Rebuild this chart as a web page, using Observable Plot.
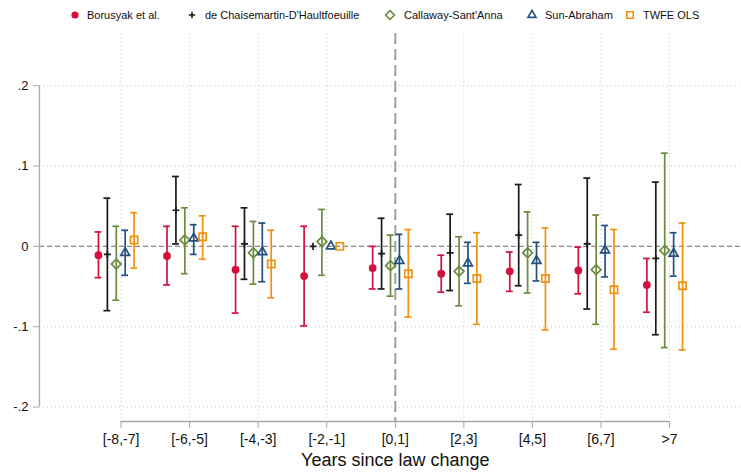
<!DOCTYPE html>
<html><head><meta charset="utf-8">
<script src="https://cdn.jsdelivr.net/npm/d3@7"></script>
<script src="https://cdn.jsdelivr.net/npm/@observablehq/plot@0.6"></script>
<style>
body{margin:0;background:#fff;font-family:"Liberation Sans",Arial,sans-serif;}
#legend{position:relative;height:30px;width:741px;font-size:11px;color:#111;}
#legend svg{position:absolute;top:8px;overflow:visible;}
#legend span{position:absolute;top:0;line-height:30px;white-space:nowrap;}
</style></head><body>
<div id="legend"></div><div id="chart"></div>
<script>
const groups = ["[-8,-7]","[-6,-5]","[-4,-3]","[-2,-1]","[0,1]","[2,3]","[4,5]","[6,7]",">7"];
const estimators = ["Borusyak et al.","de Chaisemartin-D'Haultfoeuille","Callaway-Sant'Anna","Sun-Abraham","TWFE OLS"];
const yTicks = [-0.2,-0.1,0,0.1,0.2];
const xLabel = "Years since law change";

const borusyakEst = [-0.011,-0.012,-0.029,-0.037,-0.027,-0.034,-0.031,-0.030,-0.048];
const borusyakLo  = [-0.039,-0.048,-0.083,-0.099,-0.053,-0.057,-0.056,-0.059,-0.082];
const borusyakHi  = [0.018,0.025,0.025,0.025,0.000,-0.011,-0.007,-0.001,-0.015];

const dcdhEst = [-0.010,0.045,0.003,0.000,-0.009,-0.008,0.014,0.003,-0.015];
const dcdhLo  = [-0.080,0.003,-0.041,0.000,-0.053,-0.055,-0.049,-0.078,-0.110];
const dcdhHi  = [0.060,0.087,0.048,0.000,0.035,0.040,0.077,0.085,0.080];

const csEst = [-0.022,0.008,-0.008,0.006,-0.024,-0.031,-0.008,-0.029,-0.005];
const csLo  = [-0.067,-0.034,-0.047,-0.036,-0.062,-0.074,-0.058,-0.097,-0.126];
const csHi  = [0.025,0.048,0.031,0.046,0.014,0.012,0.043,0.039,0.116];

const saEst = [-0.008,0.010,-0.007,0.000,-0.018,-0.021,-0.018,-0.005,-0.009];
const saLo  = [-0.036,-0.010,-0.044,0.000,-0.053,-0.046,-0.043,-0.038,-0.037];
const saHi  = [0.020,0.027,0.029,0.000,0.015,0.005,0.005,0.026,0.017];

const twfeEst = [0.008,0.012,-0.022,0.000,-0.034,-0.040,-0.040,-0.054,-0.049];
const twfeLo  = [-0.027,-0.016,-0.064,0.000,-0.088,-0.097,-0.104,-0.128,-0.129];
const twfeHi  = [0.042,0.038,0.020,0.000,0.021,0.017,0.023,0.021,0.029];

// styling
const colors = ["#D2103E","#1a1a1a","#6A8C3C","#24507F","#F0900F"];
const symbols = ["circle","plus","diamond2","triangle2","square2"];
const d3symbols = [d3.symbolCircle,d3.symbolPlus,d3.symbolDiamond2,d3.symbolTriangle2,d3.symbolSquare2];
const radii = [3.9,2.4,4.4,4.2,4.6];
const legendRadii = [3.6,2.2,4.0,3.9,4.1];
const offsets = [-0.33,-0.2,-0.07,0.06,0.19];

const series = [
  [borusyakEst,borusyakLo,borusyakHi],
  [dcdhEst,dcdhLo,dcdhHi],
  [csEst,csLo,csHi],
  [saEst,saLo,saHi],
  [twfeEst,twfeLo,twfeHi]
];
const rows = [];
series.forEach(([e,lo,hi],s) => {
  groups.forEach((g,i) => {
    rows.push({s, est: estimators[s], x: i + 1 + offsets[s], y: e[i], lo: lo[i], hi: hi[i]});
  });
});
const ciRows = rows.filter(d => d.hi > d.lo);

const xDomain = [-0.19, 10.05];
const yDomain = [-0.218, 0.265];
const cap = 0.05;
const fmt = d => d === 0 ? "0" : d3.format(".1f")(d).replace("0.", ".").replace("\u2212", "-");
const gridColor = "#c9c9c9";
const axisColor = "#a8a8a8";

const chart = Plot.plot({
  width: 741, height: 444,
  marginLeft: 39, marginRight: 0, marginTop: 3, marginBottom: 53,
  style: {fontFamily: "'Liberation Sans', Arial, sans-serif", fontSize: "13px", color: "#111", background: "#fff"},
  x: {domain: xDomain},
  y: {domain: yDomain},
  marks: [
    Plot.ruleY(yTicks.filter(d => d !== 0), {stroke: gridColor, strokeDasharray: "1,3"}),
    Plot.ruleX(d3.range(1, groups.length + 1).filter(d => d !== 5), {stroke: gridColor, strokeDasharray: "1,3"}),
    Plot.ruleY([0], {stroke: "#8c8c8c", strokeWidth: 1.3, strokeDasharray: "5,3"}),
    Plot.ruleX([5], {stroke: "#a0a0a0", strokeWidth: 2, strokeDasharray: "11,5"}),
    // y axis line
    Plot.ruleX([xDomain[0]], {y1: () => yTicks[0], y2: () => yTicks[yTicks.length - 1], stroke: axisColor, strokeWidth: 1.3}),
    // x axis line
    Plot.ruleY([yDomain[0]], {x1: () => 1, x2: () => groups.length, stroke: axisColor, strokeWidth: 1.3}),
    Plot.axisY({ticks: yTicks, tickFormat: fmt, tickSize: 6, tickPadding: 5, stroke: axisColor, fill: "#111", fontSize: 13, label: null}),
    Plot.axisX({ticks: d3.range(1, groups.length + 1), tickFormat: i => groups[i - 1], tickSize: 7, tickPadding: 6, stroke: axisColor, fill: "#111", fontSize: 14, label: null}),
    Plot.text([xLabel], {x: () => 5, frameAnchor: "bottom", dy: 44, fontSize: 18, fill: "#111", text: d => d}),
    // CIs
    Plot.ruleX(ciRows, {x: "x", y1: "lo", y2: "hi", stroke: d => colors[d.s], strokeWidth: 1.7}),
    Plot.ruleY(ciRows, {y: "hi", x1: d => d.x - cap, x2: d => d.x + cap, stroke: d => colors[d.s], strokeWidth: 1.7}),
    Plot.ruleY(ciRows, {y: "lo", x1: d => d.x - cap, x2: d => d.x + cap, stroke: d => colors[d.s], strokeWidth: 1.7}),
    // markers
    ...estimators.map((name, s) => Plot.dot(rows.filter(d => d.s === s), {
      x: "x", y: "y", r: radii[s], symbol: () => symbols[s],
      stroke: colors[s], fill: s === 0 ? colors[s] : "none", strokeWidth: s === 0 ? 0 : 1.7
    }))
  ]
});
document.getElementById("chart").appendChild(chart);

// legend
const legendSym = [74.7,191.5,390,532,630];
const legendText = [87,205,404,545,643];
const legend = d3.select("#legend");
estimators.forEach((name, s) => {
  const svg = legend.append("svg").attr("width", 14).attr("height", 14)
    .style("left", (legendSym[s] - 7) + "px");
  svg.append("path")
    .attr("transform", "translate(7,7)")
    .attr("d", d3.symbol(d3symbols[s], Math.PI * legendRadii[s] * legendRadii[s])())
    .attr("fill", s === 0 ? colors[s] : "none")
    .attr("stroke", s === 0 ? "none" : colors[s])
    .attr("stroke-width", 1.6);
  legend.append("span").style("left", legendText[s] + "px").text(name);
});
</script>
</body></html>
